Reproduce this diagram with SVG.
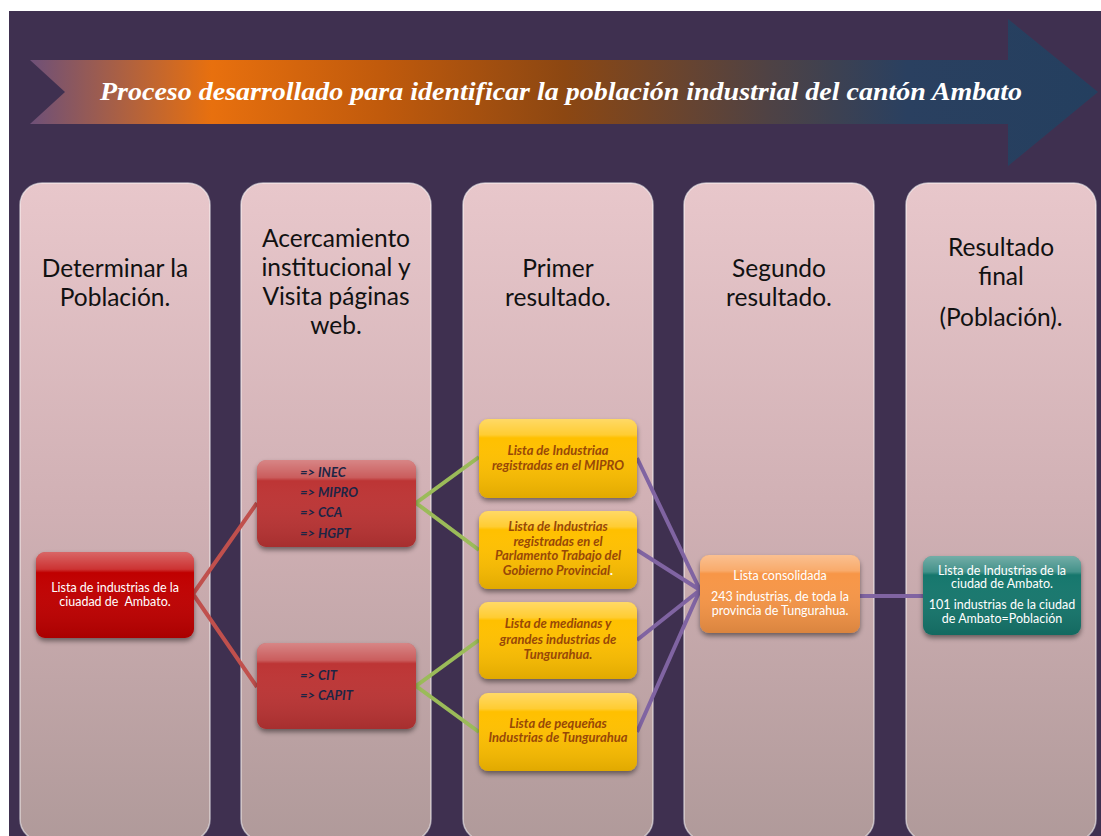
<svg xmlns="http://www.w3.org/2000/svg" width="1101" height="836" viewBox="0 0 1101 836">
<style>
.hdr{font-family:Lato,"Open Sans",sans-serif;font-size:24.5px;fill:#111;text-anchor:middle}
.wt{font-family:Lato,"Open Sans",sans-serif;font-size:12.5px;fill:#fff;text-anchor:middle}
.nv{font-family:Lato,"Open Sans",sans-serif;font-size:13px;font-weight:bold;font-style:italic;fill:#1d2545}
.yl{font-family:Lato,"Open Sans",sans-serif;font-size:13px;font-weight:bold;font-style:italic;fill:#984807;text-anchor:middle}
.col{fill:url(#colGrad);stroke:#fff;stroke-opacity:0.55;stroke-width:1.5}
.gl{fill:url(#gloss)}
.ln{fill:none;stroke-width:4;stroke-linecap:butt}
</style>
<defs>
<linearGradient id="arrowGrad" gradientUnits="userSpaceOnUse" x1="30" y1="0" x2="1099" y2="0">
<stop offset="0" stop-color="#6e5078"/>
<stop offset="0.17" stop-color="#e8700e"/>
<stop offset="0.33" stop-color="#c05a0c"/>
<stop offset="0.5" stop-color="#8c4712"/>
<stop offset="0.69" stop-color="#4f4244"/>
<stop offset="0.82" stop-color="#2a4060"/>
<stop offset="1" stop-color="#243f5f"/>
</linearGradient>
<linearGradient id="colGrad" x1="0" y1="0" x2="0" y2="1">
<stop offset="0" stop-color="#e8c7cb"/>
<stop offset="0.5" stop-color="#d0b0b4"/>
<stop offset="1" stop-color="#b09a9a"/>
</linearGradient>
<linearGradient id="gloss" x1="0" y1="0" x2="0" y2="1">
<stop offset="0" stop-color="#fff" stop-opacity="0.4"/>
<stop offset="0.2" stop-color="#fff" stop-opacity="0.2"/>
<stop offset="0.24" stop-color="#fff" stop-opacity="0"/>
<stop offset="1" stop-color="#000" stop-opacity="0.12"/>
</linearGradient>
<filter id="sh" x="-20%" y="-20%" width="140%" height="150%">
<feDropShadow dx="0" dy="3" stdDeviation="2.5" flood-color="#000" flood-opacity="0.45"/>
</filter>
</defs>
<rect x="0" y="0" width="1101" height="836" fill="#fff"/>
<rect x="9" y="11" width="1092" height="825" fill="#3f3050"/>
<g id="title-arrow">
<path d="M30,60 L1008,60 L1008,19 L1098,92 L1008,166 L1008,124 L30,124 L65,92 Z" fill="url(#arrowGrad)"/>
<text x="561" y="100" text-anchor="middle" textLength="922" lengthAdjust="spacingAndGlyphs" font-family="'Liberation Serif',serif" font-size="26" font-weight="bold" font-style="italic" fill="#fff">Proceso desarrollado para identificar la población industrial del cantón Ambato</text>
</g>
<g id="col1"><rect class="col" x="20" y="183" width="190" height="658" rx="22"/>
<text class="hdr" x="115" y="277">Determinar la</text><text class="hdr" x="115" y="306">Población.</text></g>
<g id="col2"><rect class="col" x="241" y="183" width="190" height="658" rx="22"/>
<text class="hdr" x="336" y="247">Acercamiento</text><text class="hdr" x="336" y="276">institucional y</text><text class="hdr" x="336" y="305">Visita páginas</text><text class="hdr" x="336" y="334">web.</text></g>
<g id="col3"><rect class="col" x="463" y="183" width="190" height="658" rx="22"/>
<text class="hdr" x="558" y="277">Primer</text><text class="hdr" x="558" y="306">resultado.</text></g>
<g id="col4"><rect class="col" x="684" y="183" width="190" height="658" rx="22"/>
<text class="hdr" x="779" y="277">Segundo</text><text class="hdr" x="779" y="306">resultado.</text></g>
<g id="col5"><rect class="col" x="906" y="183" width="190" height="658" rx="22"/>
<text class="hdr" x="1001" y="256">Resultado</text><text class="hdr" x="1001" y="285">final</text><text class="hdr" x="1001" y="326">(Población).</text></g>
<g id="connectors">
<path class="ln" stroke="#c0504d" d="M193,594 L257,503 M193,594 L257,687"/>
<path class="ln" stroke="#9bbb59" d="M479,457 L416,503 L479,550 M479,640 L416,686 L479,732"/>
<path class="ln" stroke="#8064a2" d="M637,458 L700,590 M637,550 L700,590 M637,640 L700,590 M637,732 L700,590 M860,596 L923,596"/>
</g>
<g id="n-ambato">
<rect x="36" y="552" width="158" height="86" rx="9" fill="#c00000" filter="url(#sh)"/>
<rect class="gl" x="36" y="552" width="158" height="86" rx="9"/>
<text class="wt" xml:space="preserve"><tspan x="115" y="592">Lista de industrias de la</tspan><tspan x="115" y="606">ciuadad de  Ambato.</tspan></text>
</g>
<g id="n-inec">
<rect x="257" y="460" width="159" height="87" rx="9" fill="#bd3434" filter="url(#sh)"/>
<rect class="gl" x="257" y="460" width="159" height="87" rx="9"/>
<text class="nv"><tspan x="300" y="477">=&gt; INEC</tspan><tspan x="300" y="497">=&gt; MIPRO</tspan><tspan x="300" y="517">=&gt; CCA</tspan><tspan x="300" y="538">=&gt; HGPT</tspan></text>
</g>
<g id="n-cit">
<rect x="257" y="643" width="159" height="86" rx="9" fill="#bd3434" filter="url(#sh)"/>
<rect class="gl" x="257" y="643" width="159" height="86" rx="9"/>
<text class="nv"><tspan x="300" y="680">=&gt; CIT</tspan><tspan x="300" y="700">=&gt; CAPIT</tspan></text>
</g>
<g id="n-mipro">
<rect x="479" y="419" width="158" height="79" rx="9" fill="#ffc000" filter="url(#sh)"/>
<rect class="gl" x="479" y="419" width="158" height="79" rx="9"/>
<text class="yl"><tspan x="558" y="455">Lista de Industriaa</tspan><tspan x="558" y="470">registradas en el MIPRO</tspan></text>
</g>
<g id="n-parlamento">
<rect x="479" y="511" width="158" height="78" rx="9" fill="#ffc000" filter="url(#sh)"/>
<rect class="gl" x="479" y="511" width="158" height="78" rx="9"/>
<text class="yl"><tspan x="558" y="531">Lista de Industrias</tspan><tspan x="558" y="546">registradas en el</tspan><tspan x="558" y="560">Parlamento Trabajo del</tspan><tspan x="558" y="575">Gobierno Provincial<tspan fill="#fff">.</tspan></tspan></text>
</g>
<g id="n-medianas">
<rect x="479" y="602" width="158" height="77" rx="9" fill="#ffc000" filter="url(#sh)"/>
<rect class="gl" x="479" y="602" width="158" height="77" rx="9"/>
<text class="yl"><tspan x="558" y="628">Lista de medianas y</tspan><tspan x="558" y="644">grandes industrias de</tspan><tspan x="558" y="659">Tungurahua.</tspan></text>
</g>
<g id="n-pequenas">
<rect x="479" y="693" width="158" height="78" rx="9" fill="#ffc000" filter="url(#sh)"/>
<rect class="gl" x="479" y="693" width="158" height="78" rx="9"/>
<text class="yl"><tspan x="558" y="728">Lista de pequeñas</tspan><tspan x="558" y="742">Industrias de Tungurahua</tspan></text>
</g>
<g id="n-consolidada">
<rect x="700" y="555" width="160" height="78" rx="9" fill="#f79646" filter="url(#sh)"/>
<rect class="gl" x="700" y="555" width="160" height="78" rx="9"/>
<text class="wt"><tspan x="780" y="580">Lista consolidada</tspan><tspan x="780" y="601">243 industrias, de toda la</tspan><tspan x="780" y="615">provincia de Tungurahua.</tspan></text>
</g>
<g id="n-final">
<rect x="923" y="556" width="158" height="79" rx="9" fill="#17776d" filter="url(#sh)"/>
<rect class="gl" x="923" y="556" width="158" height="79" rx="9"/>
<text class="wt"><tspan x="1002" y="575">Lista de Industrias de la</tspan><tspan x="1002" y="588">ciudad de Ambato.</tspan><tspan x="1002" y="609">101 industrias de la ciudad</tspan><tspan x="1002" y="623">de Ambato=Población</tspan></text>
</g>
</svg>
